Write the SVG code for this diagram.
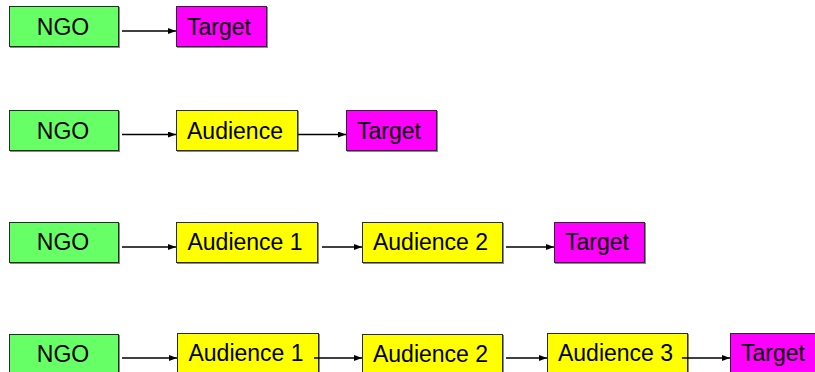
<svg xmlns="http://www.w3.org/2000/svg" width="815" height="372" viewBox="0 0 815 372">
  <style>
    rect { stroke: #2a2a2a; stroke-width: 1; filter: url(#shade); }
    .ngo { fill: #66FF66; }
    .aud { fill: #FFFF00; }
    .tgt { fill: #FF00FF; }
    text { font-family: "Liberation Sans", Arial, sans-serif; font-size: 23px; fill: #000; text-anchor: middle; }
    .conn line { stroke: #000; stroke-width: 1.3; marker-end: url(#arrow); }
  </style>
  <defs>
    <filter id="shade" x="-5%" y="-5%" width="115%" height="125%">
      <feOffset in="SourceAlpha" dx="1.2" dy="1.2" result="off"/>
      <feFlood flood-color="#8a8a8a"/>
      <feComposite in2="off" operator="in" result="sh"/>
      <feMerge><feMergeNode in="sh"/><feMergeNode in="SourceGraphic"/></feMerge>
    </filter>
    <marker id="arrow" viewBox="0 0 8 6" refX="8" refY="3" markerWidth="8" markerHeight="6" markerUnits="userSpaceOnUse" orient="auto">
      <path d="M0,0 L8,3 L0,6 Z" fill="#000"/>
    </marker>
  </defs>

  <!-- Row 1 -->
  <g id="r1-ngo"><rect class="ngo" x="9.5" y="6.5" width="109" height="40"/><text x="63" y="34.5">NGO</text></g>
  <g id="r1-target"><rect class="tgt" x="176.5" y="6.5" width="90" height="40"/><text x="219" y="34.5">Target</text></g>

  <!-- Row 2 -->
  <g id="r2-ngo"><rect class="ngo" x="9.5" y="110.5" width="109" height="40"/><text x="63" y="138.5">NGO</text></g>
  <g id="r2-audience"><rect class="aud" x="176.5" y="110.5" width="121" height="40"/><text x="235" y="138.5">Audience</text></g>
  <g id="r2-target"><rect class="tgt" x="346.5" y="110.5" width="90" height="40"/><text x="389" y="138.5">Target</text></g>

  <!-- Row 3 -->
  <g id="r3-ngo"><rect class="ngo" x="9.5" y="222.5" width="109" height="40"/><text x="63" y="250">NGO</text></g>
  <g id="r3-audience1"><rect class="aud" x="176.5" y="222.5" width="141" height="40"/><text x="245" y="250">Audience 1</text></g>
  <g id="r3-audience2"><rect class="aud" x="362.5" y="222.5" width="140" height="40"/><text x="430.5" y="250">Audience 2</text></g>
  <g id="r3-target"><rect class="tgt" x="554.5" y="222.5" width="90" height="40"/><text x="597" y="250">Target</text></g>

  <!-- Row 4 -->
  <g id="r4-ngo"><rect class="ngo" x="9.5" y="334.5" width="109" height="40"/><text x="63" y="362">NGO</text></g>
  <g id="r4-audience1"><rect class="aud" x="177.5" y="333.5" width="141" height="40"/><text x="246" y="361">Audience 1</text></g>
  <g id="r4-audience2"><rect class="aud" x="362.5" y="334.5" width="140" height="40"/><text x="430.5" y="362">Audience 2</text></g>
  <g id="r4-audience3"><rect class="aud" x="547.5" y="333.5" width="140" height="40"/><text x="615.5" y="361">Audience 3</text></g>
  <g id="r4-target"><rect class="tgt" x="730.5" y="333.5" width="90" height="40"/><text x="773" y="361">Target</text></g>

  <!-- Connectors -->
  <g class="conn" id="connectors">
    <line x1="122" y1="31" x2="176" y2="31"/>

    <line x1="122" y1="134.5" x2="176" y2="134.5"/>
    <line x1="298" y1="134.5" x2="346" y2="134.5"/>

    <line x1="122" y1="247" x2="176" y2="247"/>
    <line x1="322" y1="247" x2="362" y2="247"/>
    <line x1="506" y1="247" x2="554" y2="247"/>

    <line x1="122" y1="358" x2="177" y2="358"/>
    <line x1="314" y1="358" x2="362" y2="358"/>
    <line x1="506" y1="358" x2="547" y2="358"/>
    <line x1="682" y1="358" x2="730" y2="358"/>
  </g>
</svg>
